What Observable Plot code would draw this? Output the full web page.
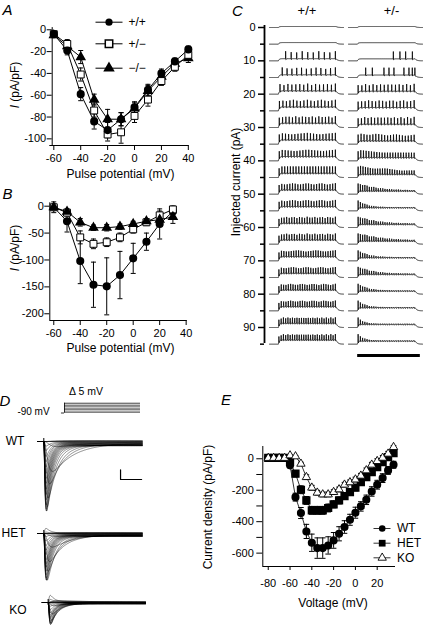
<!DOCTYPE html>
<html><head><meta charset="utf-8">
<script src="https://cdn.jsdelivr.net/npm/d3@7"></script>
<script src="https://cdn.jsdelivr.net/npm/@observablehq/plot@0.6"></script>
<style>
html,body{margin:0;padding:0;background:#fff;}
#fig{position:relative;width:424px;height:626px;overflow:hidden;background:#fff;color:#000;font-family:"Liberation Sans",Arial,Helvetica,sans-serif;}
#fig svg{position:absolute;}
</style></head><body><div id="fig"></div>
<script>
// ===================== DATA =====================
// Panel A: I-V, pA/pF
const aVolts = [-60,-50,-40,-30,-20,-10,0,10,20,30,40];
const aWT    = [-4,-19,-59,-84,-92,-82,-71,-55,-40,-29,-18];
const aWTerr = [2,4,6,7,7,6,5,5,4,3,3];
const aHET   = [-4,-13,-41,-74,-96,-94,-79,-64,-47,-34,-23];
const aHETerr= [2,4,6,6,6,10,6,6,4,4,3];
const aKO    = [-5,-15,-25,-64,-82,-82,-72,-56,-43,-31,-26];
const aKOerr = [2,5,6,5,9,6,5,5,5,4,4];
const aTicksX = [-60,-40,-20,0,20,40];
const aTicksY = [0,-20,-40,-60,-80,-100];
const abLegend = ["+/+","+/−","−/−"];

// Panel B
const bVolts = [-60,-50,-40,-30,-20,-10,0,10,20,30];
const bWT    = [-2,-28,-102,-146,-149,-128,-97,-66,-33,-10];
const bWTerr = [10,20,42,42,53,44,28,16,28,10];
const bHET   = [-2,-12,-58,-70,-67,-58,-43,-30,-17,-6];
const bHETerr= [4,6,12,9,8,8,7,6,8,6];
const bKO    = [-2,-10,-30,-40,-40,-38,-33,-28,-25,-20];
const bKOerr = [4,5,7,5,6,5,5,5,5,12];
const bTicksX = [-60,-40,-20,0,20,40];
const bTicksY = [0,-50,-100,-150,-200];

// Panel C: current-clamp firing
const cCurrents  = [0,5,10,15,20,25,30,35,40,45,50,55,60,65,70,75,80,85,90,95];
const cMajorTicks= [0,10,20,30,40,50,60,70,80,90];
const cMinorTicks= [5,15,25,35,45,55,65,75,85,95];
const cWtSpikes  = [0,0,10,12,15,17,18,19,20,21,22,22,23,23,24,24,25,25,26,26];
const cWtFirst   = [0,0,216,170,140,132,130,130,130,128,128,128,126,126,126,125,125,125,125,125];
const cHetSpikes = [0,0,4,9,16,17,18,20,22,24,26,26,26,26,26,26,26,26,26,26];
const cHetDecay  = [Infinity,Infinity,Infinity,Infinity,Infinity,Infinity,Infinity,3000,1500,800,250,110,250,300,130,200,120,90,70,70];
const cHetTimes10 = [604,693,770,861];
const cHetTimes15 = [230,320,477,545,612,747,815,860,895];
const cHeaders = ["+/+","+/-"];

// Panel E: current density vs voltage (pA/pF)
const eVolts = [-80,-75,-70,-65,-60,-55,-50,-45,-40,-35,-30,-25,-20,-15,-10,-5,0,5,10,15,20,25,30,35];
const eWT    = [5,5,5,5,-42,-244,-345,-462,-534,-568,-568,-551,-519,-477,-434,-388,-343,-303,-261,-208,-165,-123,-74,-38];
const eWTerr = [3,3,3,3,15,25,35,45,55,65,65,55,50,45,40,35,35,30,30,30,28,28,25,22];
const eHET   = [5,5,5,5,-20,-95,-197,-265,-328,-328,-328,-313,-290,-265,-237,-212,-184,-148,-117,-85,-53,-21,10,36];
const eHETerr= [2,2,2,2,10,20,25,25,25,25,25,25,22,22,20,20,20,20,20,18,18,18,18,18];
const eKO    = [5,5,5,5,21,15,-32,-117,-184,-216,-227,-227,-212,-195,-165,-150,-132,-108,-74,-38,-15,6,32,74];
const eKOerr = [2,2,2,2,5,5,10,15,15,15,15,15,15,15,15,15,15,15,15,15,15,15,15,10];
const eTicksX = [-80,-60,-40,-20,0,20];
const eTicksY = [0,-200,-400,-600];
const eMinorY = [-100,-300,-500];
const eLegend = ["WT","HET","KO"];

// Panel D: voltage protocol and genotype labels
const dHolding = -90;
const dGenotypes = ["WT","HET","KO"];

// ===================== HELPERS =====================
const FONT = '"Liberation Sans", Arial, Helvetica, sans-serif';
const fig = document.getElementById("fig");
function place(svg, left, top){ svg.style.left = left+"px"; svg.style.top = top+"px"; fig.appendChild(svg); }
function txt(s, cx, cy, o = {}){
  const d = document.createElement("div");
  if (o.html) d.innerHTML = s; else d.textContent = s;
  d.style.cssText = `position:absolute;left:${cx}px;top:${cy}px;white-space:nowrap;line-height:1;font-family:${FONT};font-size:${o.size||12}px;${o.italic?"font-style:italic;":""}transform:translate(-50%,-50%)${o.rot?" rotate(-90deg)":""};color:#000;`;
  fig.appendChild(d);
}
const baseStyle = {fontFamily: FONT, fontSize: "11px", color: "black", background: "none", overflow: "visible"};
const cap = {draw(ctx, size){ const r = Math.sqrt(size/Math.PI); ctx.moveTo(-r,0); ctx.lineTo(r,0); }};
const rows = (xs, ys, es) => xs.map((x,i)=>({x, y: ys[i], e: es ? es[i] : 0}));

function seriesMarks(data, capR, lineW){
  return [
    Plot.ruleX(data, {x:"x", y1: d=>d.y-d.e, y2: d=>d.y+d.e, stroke:"black", strokeWidth:1}),
    Plot.dot(data, {x:"x", y: d=>d.y-d.e, symbol: cap, r: capR, stroke:"black", strokeWidth:1}),
    Plot.dot(data, {x:"x", y: d=>d.y+d.e, symbol: cap, r: capR, stroke:"black", strokeWidth:1}),
    Plot.line(data, {x:"x", y:"y", stroke:"black", strokeWidth: lineW})
  ];
}

// ===================== PANEL A =====================
{
  const W=210, H=180, ml=51.7, mr=21.5, mt=27.1, mb=35;
  const xd=[-61.2,40.5], yd=[-106.1,2];
  const kx=(W-ml-mr)/(xd[1]-xd[0]), ky=(H-mt-mb)/(yd[1]-yd[0]);
  const X = px => xd[0] + (px-ml)/kx, Y = py => yd[1] - (py-mt)/ky;
  const s1=rows(aVolts,aWT,aWTerr), s2=rows(aVolts,aHET,aHETerr), s3=rows(aVolts,aKO,aKOerr);
  const leg = abLegend.map((t,i)=>({t, y: Y([21.7,43.3,67.7][i])}));
  const p = Plot.plot({
    width:W, height:H, marginLeft:ml, marginRight:mr, marginTop:mt, marginBottom:mb,
    style: baseStyle,
    x:{domain:xd}, y:{domain:yd},
    marks:[
      Plot.ruleX([xd[0]], {y1: yd[0], y2: yd[1], stroke:"black"}),
      Plot.ruleY([yd[0]], {x1: X(49.3), x2: xd[1], stroke:"black"}),
      Plot.axisY(aTicksY, {tickSize:5, tickPadding:1, tickFormat: d=>String(d), label:null}),
      Plot.axisX(aTicksX, {tickSize:5, tickPadding:4, tickFormat: d=>String(d), label:null}),
      ...seriesMarks(s3,2.5,1), ...seriesMarks(s2,2.5,1), ...seriesMarks(s1,2.5,1),
      Plot.dot(s3, {x:"x", y:"y", symbol:"triangle", r:3, fill:"black", stroke:"black"}),
      Plot.dot(s2, {x:"x", y:"y", symbol:"square", r:3.9, fill:"white", stroke:"black", strokeWidth:1}),
      Plot.dot(s1, {x:"x", y:"y", symbol:"circle", r:3.3, fill:"black", stroke:"black"}),
      Plot.link(leg, {x1: X(95), x2: X(122), y1:"y", y2:"y", stroke:"black", strokeWidth:1}),
      Plot.dot(leg.slice(0,1), {x: X(108.5), y:"y", symbol:"circle", r:3.6, fill:"black"}),
      Plot.dot(leg.slice(1,2), {x: X(108.5), y:"y", symbol:"square", r:4.2, fill:"white", stroke:"black"}),
      Plot.dot(leg.slice(2,3), {x: X(108.5), y:"y", symbol:"triangle", r:3.3, fill:"black", stroke:"black"}),
      Plot.text(leg, {x: X(128), y:"y", text:"t", textAnchor:"start", fontSize:12, fill:"black"})
    ]
  });
  place(p, 0, 0);
  txt("A", 7.5, 8.5, {size:15, italic:true});
  txt("<i>I</i> (pA/pF)", 15, 85, {rot:true, html:true});
  txt("Pulse potential (mV)", 120.5, 173.5);
}

// ===================== PANEL B =====================
{
  const W=210, H=185, ml=49.3, mr=23.3, mt=32.3, mb=35;
  const xd=[-63,40.8], yd=[-212.5,6.3];
  const s1=rows(bVolts,bWT,bWTerr), s2=rows(bVolts,bHET,bHETerr), s3=rows(bVolts,bKO,bKOerr);
  const p = Plot.plot({
    width:W, height:H, marginLeft:ml, marginRight:mr, marginTop:mt, marginBottom:mb,
    style: baseStyle,
    x:{domain:xd}, y:{domain:yd},
    marks:[
      Plot.ruleX([xd[0]], {y1: yd[0], y2: yd[1], stroke:"black"}),
      Plot.ruleY([yd[0]], {x1: xd[0], x2: xd[1], stroke:"black"}),
      Plot.axisY(bTicksY, {tickSize:5, tickPadding:1, tickFormat: d=>String(d), label:null}),
      Plot.axisX(bTicksX, {tickSize:5, tickPadding:4, tickFormat: d=>String(d), label:null}),
      ...seriesMarks(s1,2.5,1), ...seriesMarks(s2,2.5,1), ...seriesMarks(s3,2.5,1),
      Plot.dot(s1, {x:"x", y:"y", symbol:"circle", r:3.3, fill:"black", stroke:"black"}),
      Plot.dot(s2, {x:"x", y:"y", symbol:"square", r:3.9, fill:"white", stroke:"black", strokeWidth:1}),
      Plot.dot(s3, {x:"x", y:"y", symbol:"triangle", r:3, fill:"black", stroke:"black"})
    ]
  });
  place(p, 0, 170);
  txt("B", 7.5, 192.5, {size:15, italic:true});
  txt("<i>I</i> (pA/pF)", 15, 248, {rot:true, html:true});
  txt("Pulse potential (mV)", 120.5, 347.5);
}

// ===================== PANEL C =====================
{
  const W=214, H=362, ml=54, mr=0, mt=25, mb=19;
  const xd=[-67.6, 2094.6], yd=[-0.6, 94.8];
  const hetOff = 1067.6, onset=120, offset=900, tEnd=1000;
  function spikeWave(u, amp, ahp){
    if (u < 0) return 0;
    if (u < 2) return -amp*u/2;
    if (u < 5) return -amp + (amp+ahp)*(u-2)/3;
    if (u < 20) return ahp*(1-(u-5)/15);
    return 0;
  }
  const lines = [];
  cCurrents.forEach((I, i) => {
    ["wt","het"].forEach(g => {
      const off = g==="wt" ? 0 : hetOff;
      const d = g==="wt" ? Math.min(0.3 + I*0.035, 1.3) : Math.min(0.3 + I*0.03, 1.0);
      let times = [];
      if (g==="wt") {
        const n = cWtSpikes[i];
        if (n>0){ const f=cWtFirst[i], l=offset-12; for (let k=0;k<n;k++) times.push(f + k*(l-f)/(n-1)); }
      } else {
        if (i===2) times = cHetTimes10.slice();
        else if (i===3) times = cHetTimes15.slice();
        else { const n=cHetSpikes[i]; if (n>0){ const f=onset+8, l=offset-15; for(let k=0;k<n;k++) times.push(f + k*(l-f)/(n-1)); } }
      }
      const A0 = g==="wt" ? Math.max(2.3 - I*0.006, 1.7) : (I>=45 ? 2.6 : 2.2);
      const amps = times.map(ts => {
        if (g==="wt") return A0;
        const tau = cHetDecay[i];
        return isFinite(tau) ? A0*Math.exp(-(ts-onset)/tau) + 0.12 : A0;
      });
      for (let t=0; t<=tEnd; t+=1){
        let y = I;
        if (t>=onset && t<=offset) y -= d*(1-Math.exp(-(t-onset)/12));
        else if (t>offset) y -= d*(1-Math.exp(-(offset-onset)/12))*Math.exp(-(t-offset)/22);
        for (let k=0;k<times.length;k++){ const u=t-times[k]; if (u>=0 && u<20) y += spikeWave(u, amps[k], 0.3); }
        lines.push({x: t+off, y, k: g+i});
      }
    });
  });
  const p = Plot.plot({
    width:W, height:H, marginLeft:ml, marginRight:mr, marginTop:mt, marginBottom:mb,
    style: baseStyle,
    x:{domain:xd, axis:null}, y:{domain:yd, reverse:true},
    marks:[
      Plot.ruleX([xd[0]], {y1: yd[0], y2: yd[1], stroke:"black", strokeWidth:1.8}),
      Plot.axisY(cMajorTicks, {tickSize:6, tickPadding:3, strokeWidth:1.5, tickFormat: d=>String(d), label:null}),
      Plot.axisY(cMinorTicks, {tickSize:4, tickPadding:3, strokeWidth:1.5, tickFormat: ()=>"", label:null}),
      Plot.line(lines, {x:"x", y:"y", z:"k", stroke:"black", strokeWidth:0.8}),
      Plot.link([{a: hetOff+117, b: hetOff+964}], {x1:"a", x2:"b", y1: 98.4, y2: 98.4, stroke:"black", strokeWidth:3})
    ]
  });
  place(p, 210, 0);
  txt("C", 237.5, 10, {size:15, italic:true});
  txt(cHeaders[0], 307, 10, {size:13});
  txt(cHeaders[1], 391.5, 10, {size:13});
  txt("Injected current (pA)", 236, 182, {rot:true});
}

// ===================== PANEL D =====================
function naTraces(vals){
  const out = [];
  eVolts.forEach((v, i) => {
    const val = vals[i];
    const tm = 0.35 + 1.8*Math.exp(-(v+60)/9);
    const th = 2.5 + 14*Math.exp(-(v+60)/9);
    const g = t => t<=0 ? 0 : Math.pow(1-Math.exp(-t/tm),3)*Math.exp(-t/th);
    let gmax = 0; for (let t=0; t<60; t+=0.02) gmax = Math.max(gmax, g(t));
    const s = 0.06;
    for (let t=-3; t<=50.001; t+=0.1){
      const act = t<=0 ? 0 : Math.pow(1-Math.exp(-t/tm),3);
      const I = t<=0 ? 0 : val*((1-s)*g(t)/gmax + s*act);
      out.push({t, I, k:i});
    }
  });
  return out;
}
function dPanel(vals, top, H, baseY, peakPx, peakVal, ml, mr, extra){
  const ky = peakPx/Math.abs(peakVal);
  const yd = [-(H-baseY)/ky, baseY/ky];
  const art = 3/ky;
  const p = Plot.plot({
    width:160, height:H, marginLeft:ml, marginRight:mr, marginTop:0, marginBottom:0,
    style: baseStyle,
    x:{domain:[-3,50], axis:null}, y:{domain:yd, axis:null},
    marks:[
      Plot.line(naTraces(vals), {x:"t", y:"I", z:"k", stroke:"black", strokeWidth:0.45}),
      Plot.ruleX([0], {y1:-art, y2:art, stroke:"black", strokeWidth:1}),
      Plot.ruleY([0], {x1:-3, x2:0.4, stroke:"black", strokeWidth:1}),
      ...(extra ? extra(ky, yd) : [])
    ]
  });
  place(p, 0, top);
}
{
  const pr = Plot.plot({
    width:160, height:18, marginLeft:60.96, marginRight:20, marginTop:0, marginBottom:0,
    style: baseStyle,
    x:{domain:[-2,50], axis:null}, y:{domain:[-134.6,95], axis:null},
    marks:[
      Plot.ruleY(eVolts, {y: d=>d, x1:0, x2:50, stroke:"#aaa", strokeWidth:0.35}),
      Plot.ruleY([eVolts[0], eVolts[8], eVolts[16], eVolts[eVolts.length-1]], {y: d=>d, x1:0, x2:50, stroke:"black", strokeWidth:0.6}),
      Plot.ruleY([dHolding], {x1:-2, x2:0, stroke:"black", strokeWidth:0.8}),
      Plot.ruleX([0], {y1:dHolding, y2:eVolts[eVolts.length-1], stroke:"black", strokeWidth:0.8})
    ]
  });
  place(pr, 0, 398);
  txt("D", 5, 400, {size:15, italic:true});
  txt("Δ  5 mV", 86, 391, {size:10.5});
  txt("-90 mV", 33.5, 412, {size:10});
  dPanel(eWT, 430, 90, 11, 70, -568, 37.4, 18.3, (ky, yd) => [
    Plot.line([{t:39,I:yd[1]-39.3/ky},{t:39,I:yd[1]-49/ky},{t:49.7,I:yd[1]-49/ky}], {x:"t", y:"I", stroke:"black", strokeWidth:1.2})
  ]);
  dPanel(eHET, 520, 75, 13, 47, -328, 37.4, 18.3);
  dPanel(eKO, 590, 36, 12, 22, -227, 41.8, 15);
  txt(dGenotypes[0], 15, 440.5);
  txt(dGenotypes[1], 13.5, 533);
  txt(dGenotypes[2], 18, 610);
}

// ===================== PANEL E =====================
{
  const W=204, H=170, ml=42.3, mr=29, mt=16, mb=34;
  const xd=[-85,36.8], yd=[-685,78];
  const kx=(W-ml-mr)/(xd[1]-xd[0]), ky=(H-mt-mb)/(yd[1]-yd[0]);
  const X = px => xd[0] + (px-262.3)/kx, Y = py => yd[1] - (py-446)/ky;
  const s1=rows(eVolts,eWT,eWTerr), s2=rows(eVolts,eHET,eHETerr), s3=rows(eVolts,eKO,eKOerr);
  const leg = eLegend.map((t,i)=>({t, y: Y([528,542.7,557.3][i])}));
  const p = Plot.plot({
    width:W, height:H, marginLeft:ml, marginRight:mr, marginTop:mt, marginBottom:mb,
    style: baseStyle,
    x:{domain:xd}, y:{domain:yd},
    marks:[
      Plot.ruleX([xd[0]], {y1: yd[0], y2: yd[1], stroke:"black"}),
      Plot.ruleY([yd[0]], {x1: xd[0], x2: xd[1], stroke:"black"}),
      Plot.axisY(eTicksY, {tickSize:6, tickPadding:3, tickFormat: d=>String(d), label:null}),
      Plot.axisY(eMinorY, {tickSize:6, tickPadding:3, tickFormat: ()=>"", label:null}),
      Plot.axisX(eTicksX, {tickSize:4, tickPadding:9, tickFormat: d=>String(d), label:null}),
      ...seriesMarks(s1,2.8,0.8), ...seriesMarks(s2,2.8,0.8), ...seriesMarks(s3,2.8,0.8),
      Plot.dot(s1, {x:"x", y:"y", symbol:"circle", r:3.3, fill:"black", stroke:"black"}),
      Plot.dot(s2, {x:"x", y:"y", symbol:"square", r:3.8, fill:"black", stroke:"black"}),
      Plot.dot(s3, {x:"x", y:"y", symbol:"triangle", r:3.1, fill:"white", stroke:"black", strokeWidth:0.9}),
      Plot.link(leg, {x1: X(373), x2: X(390), y1:"y", y2:"y", stroke:"black", strokeWidth:0.8}),
      Plot.dot(leg.slice(0,1), {x: X(381.7), y:"y", symbol:"circle", r:3.3, fill:"black"}),
      Plot.dot(leg.slice(1,2), {x: X(381.7), y:"y", symbol:"square", r:3.8, fill:"black"}),
      Plot.dot(leg.slice(2,3), {x: X(381.7), y:"y", symbol:"triangle", r:3.1, fill:"white", stroke:"black", strokeWidth:0.9}),
      Plot.text(leg, {x: X(396.5), y:"y", text:"t", textAnchor:"start", fontSize:12, fill:"black"})
    ]
  });
  place(p, 220, 430);
  txt("E", 226, 399, {size:15, italic:true});
  txt("Current density (pA/pF)", 208, 507, {rot:true});
  txt("Voltage (mV)", 333, 603);
}
</script>
</body></html>
